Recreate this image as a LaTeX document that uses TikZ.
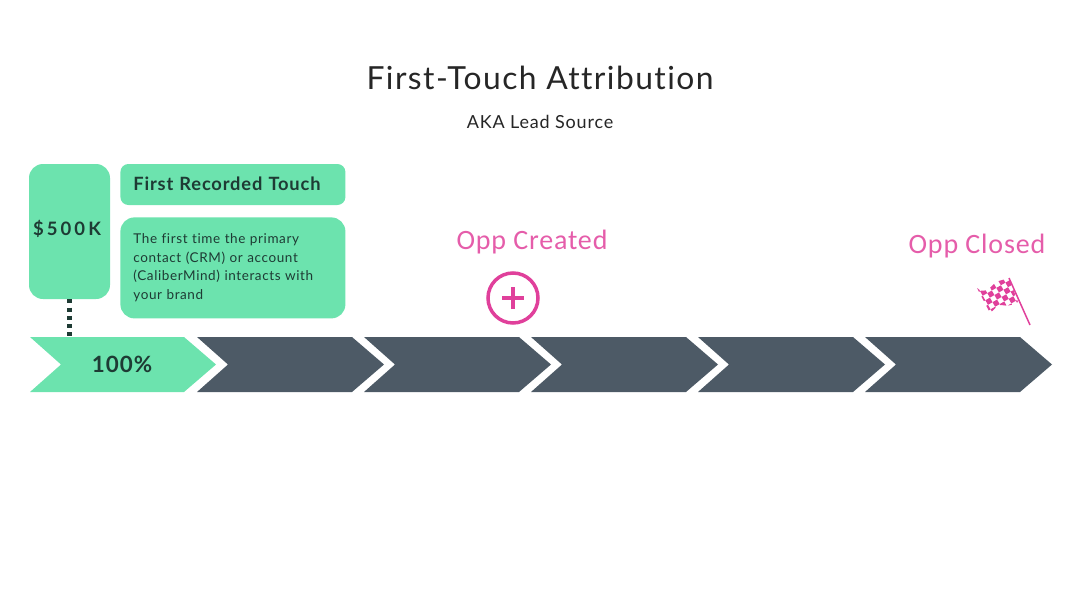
\documentclass[tikz,border=0pt]{standalone}
\usepackage{fontspec}
\setmainfont{Lato}[LetterSpace=4.5, Ligatures=NoCommon]
\newfontfamily\handfont{Carlito}[LetterSpace=3, Ligatures=NoCommon]
\usepackage{xcolor}
\usetikzlibrary{arrows, positioning}
\definecolor{mint}{HTML}{6CE3AE}
\definecolor{slate}{HTML}{4D5A66}
\definecolor{ink}{HTML}{1E3B34}
\definecolor{hotpink}{HTML}{E0409B}
\begin{document}
\begin{tikzpicture}[x=1pt, y=-1pt]
    \tikzstyle{box} = [fill=mint, rounded corners=8pt, text=ink, inner sep=0pt]
    \tikzstyle{chevron} = [fill=slate]
    \tikzstyle{hand} = [text=hotpink!85!white, inner sep=0pt, font=\handfont\fontsize{28}{32}\selectfont]
    \useasboundingbox (0,0) rectangle (1080,608);
    \node [inner sep=0pt, text=black!85, font=\fontsize{31.8}{37}\selectfont] at (540,78) (title) {First-Touch Attribution};
    \node [inner sep=0pt, text=black!85, font=\fontsize{18}{22}\selectfont, below=25pt of title] (sub) {AKA Lead Source};
    \node [box, rounded corners=14pt, minimum width=81pt, minimum height=135pt, font=\bfseries\fontsize{18.5}{23}\selectfont] at (69.5,231.5) (money) {\raisebox{8pt}{\$\,5\,0\,0\,K\kern5pt}};
    \node [box, minimum width=225pt, minimum height=41pt, font=\bfseries\fontsize{18.3}{22}\selectfont, text width=199pt, align=left, right=10pt of money.north east, anchor=north west] (head) {\raisebox{2pt}{First Recorded Touch}};
    \node [box, rounded corners=14pt, minimum width=225pt, minimum height=101pt, font=\fontsize{13.5}{18.5}\selectfont, text width=199pt, align=left, below=12pt of head] (desc) {The first time the primary\\contact (CRM) or account\\(CaliberMind) interacts with\\your brand};
    % arrow band
    \fill [fill=mint] (30,337) -- (184,337) -- (216,364.5) -- (184,392) -- (30,392) -- (61,364.5) -- cycle;
    \fill [chevron] (197,337) -- (352,337) -- (384,364.5) -- (352,392) -- (197,392) -- (228,364.5) -- cycle;
    \fill [chevron] (364,337) -- (519,337) -- (551,364.5) -- (519,392) -- (364,392) -- (395,364.5) -- cycle;
    \fill [chevron] (531,337) -- (686,337) -- (718,364.5) -- (686,392) -- (531,392) -- (562,364.5) -- cycle;
    \fill [chevron] (698,337) -- (853,337) -- (885,364.5) -- (853,392) -- (698,392) -- (729,364.5) -- cycle;
    \fill [chevron] (865,337) -- (1020,337) -- (1052,364.5) -- (1020,392) -- (865,392) -- (896,364.5) -- cycle;
    \node [inner sep=0pt, text=ink, font=\bfseries\fontsize{22.4}{26}\selectfont] at (122,364.5) (share) {100\%};
    \coordinate (drop) at (69.5,337);
    \draw [line width=5pt, draw=ink, dash pattern=on 4pt off 4.3pt] (money.south) -- (drop);
    % markers
    \node [hand] at (532,242) (created) {Opp Created};
    \node [hand] at (977,246) (closed) {Opp Closed};
    \node [circle, draw=hotpink, line width=3.5pt, minimum size=50pt, inner sep=0pt] at (513,298) (plus) {};
    \draw [hotpink, line width=3.5pt] ([xshift=-11pt]plus.center) -- ([xshift=11pt]plus.center);
    \draw [hotpink, line width=3.5pt] ([yshift=-11pt]plus.center) -- ([yshift=11pt]plus.center);
    % flag
    \draw [hotpink, line width=1.5pt] (1009,278) -- (1030,325);
    \begin{scope}
        \clip (977,288) .. controls (984,294) and (988,290) .. (995,283) .. controls (999,280) and (1004,280) .. (1009,278) -- (1018,302) .. controls (1012,306) and (1006,306) .. (1001,305) .. controls (997,305) and (994,310) .. (990,313) -- cycle;
        \foreach \i in {-5,...,5} {
            \foreach \j in {-5,...,5} {
                \fill [hotpink, shift={(998,296)}, rotate=-15] (\i*7.4,\j*7.4) ++(-3.7,0) -- ++(3.7,-3.7) -- ++(3.7,3.7) -- ++(-3.7,3.7) -- cycle;
            }
        }
    \end{scope}
\end{tikzpicture}
\end{document}
